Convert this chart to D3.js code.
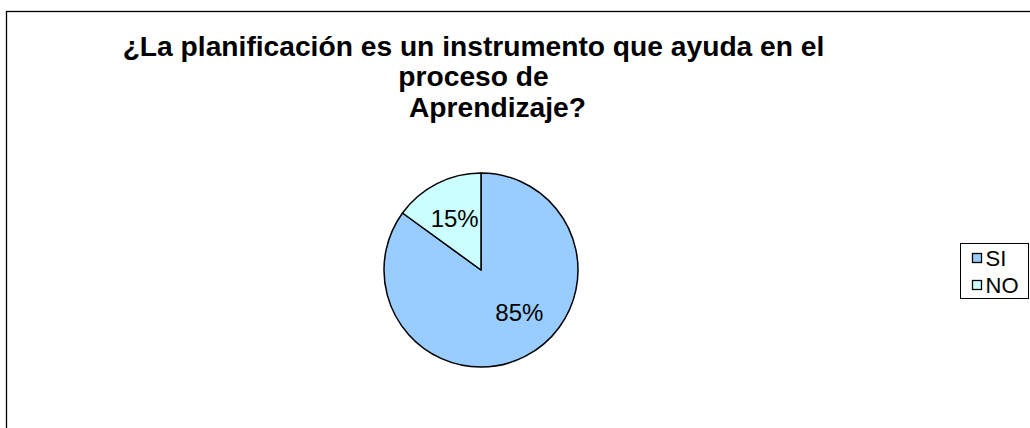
<!DOCTYPE html>
<html><head><meta charset="utf-8">
<script src="https://cdn.jsdelivr.net/npm/d3@7"></script>
<style>
html,body{margin:0;padding:0;background:#fff;overflow:hidden}
svg{display:block}
text{font-family:"Liberation Sans",Arial,sans-serif}
</style></head>
<body>
<svg id="chart" width="1030" height="428"></svg>
<script>
const categories = ["SI", "NO"];
const values = [85, 15];
const colors = ["#99CCFF", "#CCFFFF"];
const titleLines = ["¿La planificación es un instrumento que ayuda en el", "proceso de", "Aprendizaje?"];

const svg = d3.select("#chart");

// outer frame (extends beyond viewport on right/bottom)
svg.append("rect").attr("x", 6.5).attr("y", 11.5).attr("width", 1040).attr("height", 440)
  .attr("fill", "#fff").attr("stroke", "#000").attr("stroke-width", 1.3);

// title
const titleX = [473.5, 473.5, 497.5];
const titleY = [55.5, 86, 116.5];
svg.append("g").selectAll("text").data(titleLines).join("text")
  .attr("x", (d, i) => titleX[i]).attr("y", (d, i) => titleY[i])
  .attr("text-anchor", "middle")
  .attr("font-weight", "bold").attr("font-size", 28.2).attr("fill", "#000")
  .text(d => d);

// pie
const cx = 481, cy = 270, R = 97;
const pie = d3.pie().sort(null).value(d => d.v).startAngle(0).endAngle(2 * Math.PI);
const data = categories.map((c, i) => ({ c, v: values[i] }));
const arcs = pie(data);
const arc = d3.arc().innerRadius(0).outerRadius(R);
const labelArc = d3.arc().innerRadius(58).outerRadius(58);
const color = d3.scaleOrdinal().domain(categories).range(colors);

const g = svg.append("g").attr("transform", `translate(${cx},${cy})`);
g.selectAll("path").data(arcs).join("path")
  .attr("d", arc).attr("fill", d => color(d.data.c))
  .attr("stroke", "#000").attr("stroke-width", 1.5).attr("stroke-linejoin", "round");

const total = d3.sum(values);
const nudge = { SI: [12, -9], NO: [0, 0] };
g.selectAll("text.lbl").data(arcs).join("text").attr("class", "lbl")
  .attr("transform", d => {
    const [x, y] = labelArc.centroid(d);
    const n = nudge[d.data.c] || [0, 0];
    return `translate(${x + n[0]},${y + n[1]})`;
  })
  .attr("text-anchor", "middle").attr("dy", "0.35em")
  .attr("font-size", 24).attr("fill", "#000")
  .text(d => Math.round(d.data.v / total * 100) + "%");

// legend
const lg = svg.append("g");
lg.append("rect").attr("x", 960.5).attr("y", 243.5).attr("width", 68).attr("height", 55)
  .attr("fill", "#fff").attr("stroke", "#000").attr("stroke-width", 1);
const li = lg.selectAll("g.item").data(categories).join("g").attr("class", "item")
  .attr("transform", (d, i) => `translate(972.5,${253.5 + i * 27})`);
li.append("rect").attr("width", 9).attr("height", 9)
  .attr("fill", d => color(d)).attr("stroke", "#000").attr("stroke-width", 1.3);
li.append("text").attr("x", 13).attr("y", 12.5).attr("font-size", 22).attr("fill", "#000").text(d => d);
</script>
</body></html>
